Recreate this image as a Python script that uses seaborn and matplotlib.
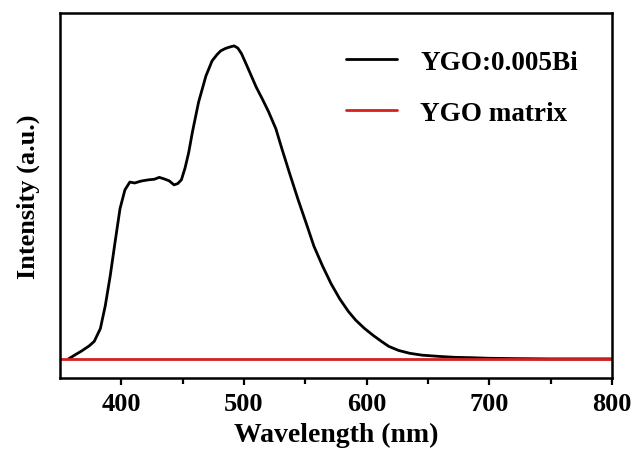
import numpy as np
import pandas as pd
import seaborn as sns
import matplotlib.pyplot as plt

# Emission spectrum (intensity normalised to peak = 1)
wavelength = [357, 362, 368, 374, 378, 383, 387, 391, 395, 399, 403, 407,
              411, 416, 422, 427, 431, 435, 439, 443, 446, 449, 452, 455,
              458, 463, 469, 474, 478, 481, 485, 489, 492, 495, 498, 502,
              506, 510, 515, 520, 526, 531, 537, 544, 551, 557, 564, 571,
              578, 585, 591, 598, 605, 612, 618, 626, 635, 645, 659, 672,
              684, 700, 720, 750, 800]
intensity = [0.0, 0.012, 0.026, 0.042, 0.056, 0.097, 0.17, 0.265, 0.374,
             0.48, 0.54, 0.565, 0.562, 0.568, 0.572, 0.574, 0.58, 0.575,
             0.569, 0.556, 0.56, 0.572, 0.61, 0.66, 0.725, 0.82, 0.904,
             0.952, 0.972, 0.984, 0.992, 0.997, 1.0, 0.993, 0.975, 0.94,
             0.904, 0.868, 0.83, 0.79, 0.735, 0.67, 0.595, 0.51, 0.43,
             0.36, 0.297, 0.24, 0.192, 0.152, 0.124, 0.098, 0.076, 0.056,
             0.04, 0.027, 0.018, 0.012, 0.008, 0.005, 0.004, 0.002, 0.001,
             0.0, 0.0]
matrix_wl = [350, 450, 550, 650, 750, 800]
matrix_int = [0, 0, 0, 0, 0, 0]

spectra = pd.concat([
    pd.DataFrame({'wl': wavelength, 'I': intensity, 'sample': 'YGO:0.005Bi'}),
    pd.DataFrame({'wl': matrix_wl, 'I': matrix_int, 'sample': 'YGO matrix'}),
])

sns.set_style('ticks')
plt.rcParams['font.family'] = ['Liberation Serif', 'DejaVu Serif']
plt.rcParams['font.weight'] = 'bold'
plt.rcParams['text.color'] = 'black'
plt.rcParams['axes.labelcolor'] = 'black'
plt.rcParams['xtick.color'] = 'black'
plt.rcParams['axes.edgecolor'] = 'black'

fig = plt.figure(figsize=(6.37, 4.52), dpi=100)
ax = fig.add_axes([0.094, 0.1615, 0.867, 0.8075])

sns.lineplot(data=spectra, x='wl', y='I', hue='sample',
             palette={'YGO:0.005Bi': 'black', 'YGO matrix': '#d42020'},
             linewidth=2.0, ax=ax, sort=True)

ax.set_xlim(350, 800)
ax.set_ylim(-0.061, 1.105)
ax.set_xticks([400, 500, 600, 700, 800])
ax.set_xticks([450, 550, 650, 750], minor=True)
ax.set_yticks([])
ax.tick_params(axis='x', which='major', direction='out', length=5, width=1.6,
               labelsize=19, pad=5)
ax.tick_params(axis='x', which='minor', direction='out', length=4, width=1.6)
for lbl in ax.get_xticklabels():
    lbl.set_fontweight('bold')
for sp in ax.spines.values():
    sp.set_linewidth(1.8)
    sp.set_visible(True)

ax.set_xlabel('Wavelength (nm)', fontsize=20, fontweight='bold', labelpad=5)
ax.set_ylabel('Intensity (a.u.)', fontsize=19, fontweight='bold', labelpad=14)

leg = ax.legend(loc='upper left', bbox_to_anchor=(0.518, 0.9), frameon=False,
                borderaxespad=0, borderpad=0, handlelength=1.9,
                handletextpad=0.85, labelspacing=0.97,
                prop={'size': 19.5, 'weight': 'bold'})
for line in leg.get_lines():
    line.set_linewidth(2.0)

fig.savefig('out.png', dpi=100)
